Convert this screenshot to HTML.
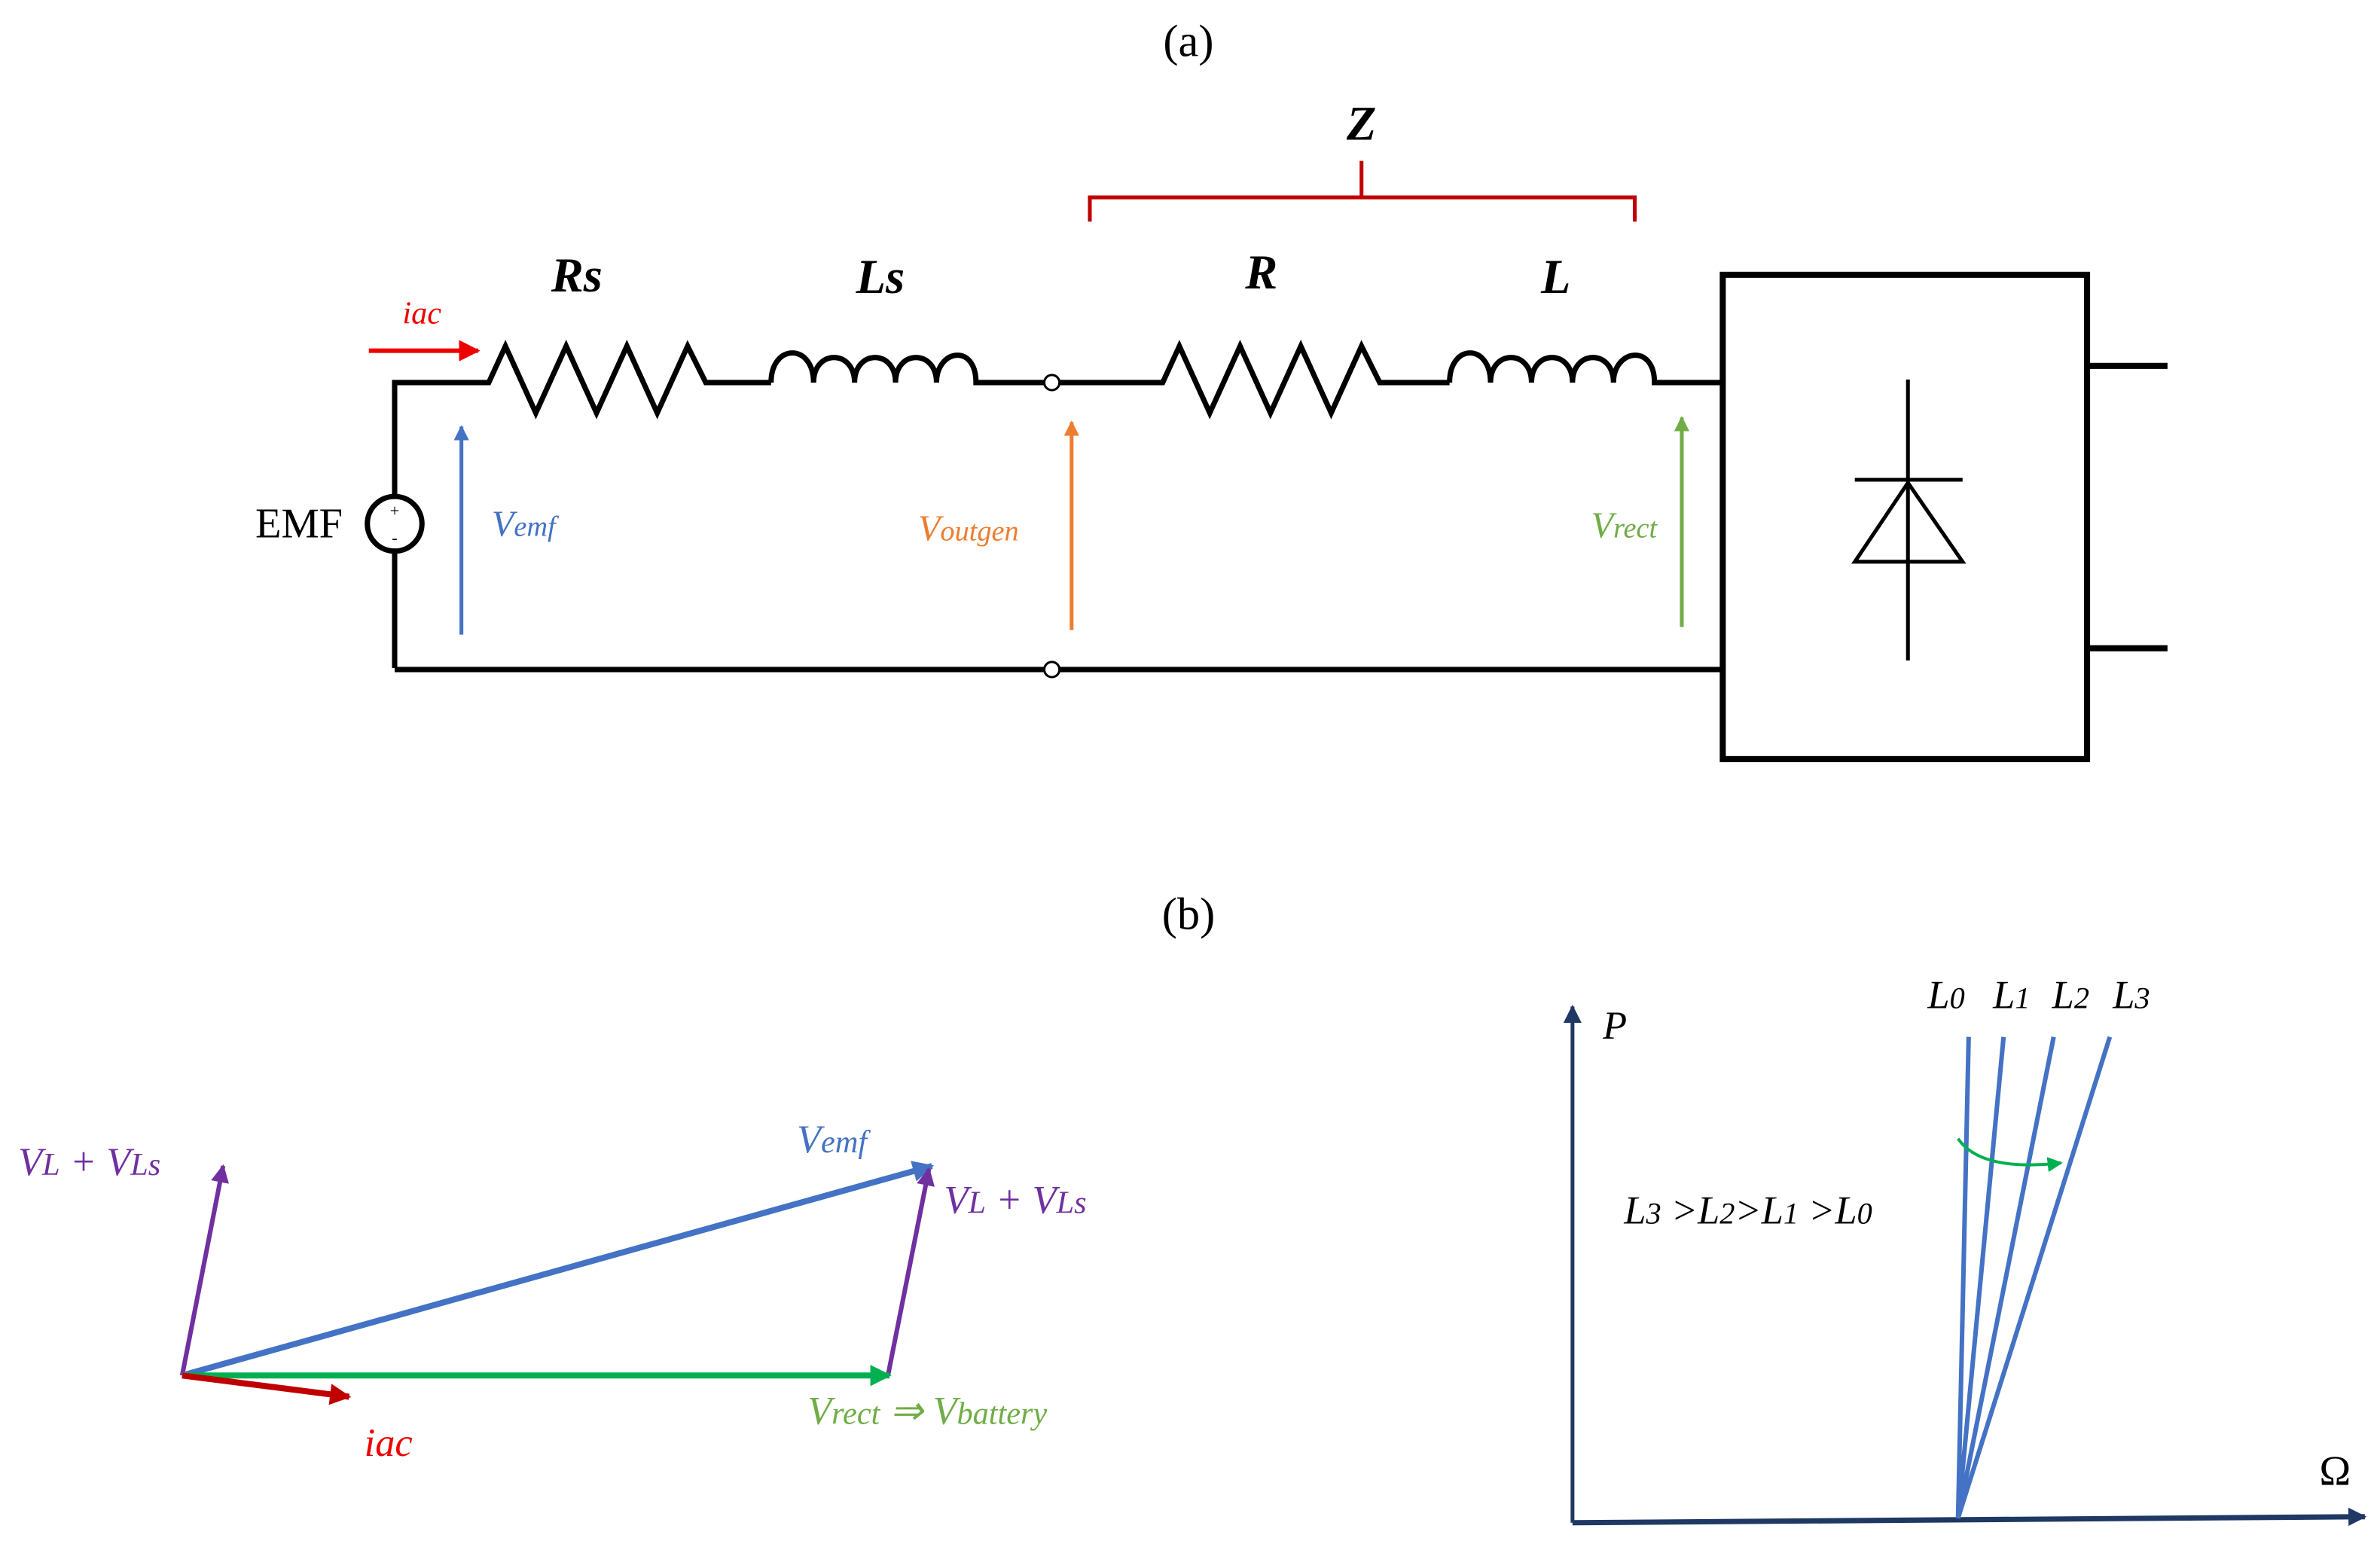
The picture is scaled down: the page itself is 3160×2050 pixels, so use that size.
<!DOCTYPE html>
<html><head><meta charset="utf-8"><style>html,body{margin:0;padding:0;background:#fff}svg{display:block}</style></head>
<body>
<svg width="3160" height="2050" viewBox="0 0 1568 1017" preserveAspectRatio="none" xmlns="http://www.w3.org/2000/svg" font-family="'Liberation Serif', serif">
<defs>
<marker id="mr" viewBox="0 0 10 10" markerWidth="14" markerHeight="14" refX="9" refY="5" orient="auto" markerUnits="userSpaceOnUse"><path d="M0,0 L10,5 L0,10 Z" fill="#e00"/></marker>
<marker id="mb" viewBox="0 0 10 10" markerWidth="10" markerHeight="12" refX="9" refY="5" orient="auto" markerUnits="userSpaceOnUse"><path d="M0,0 L10,5 L0,10 Z" fill="#4472c4"/></marker>
<marker id="mo" viewBox="0 0 10 10" markerWidth="10" markerHeight="12" refX="9" refY="5" orient="auto" markerUnits="userSpaceOnUse"><path d="M0,0 L10,5 L0,10 Z" fill="#ed7d31"/></marker>
<marker id="mg" viewBox="0 0 10 10" markerWidth="10" markerHeight="12" refX="9" refY="5" orient="auto" markerUnits="userSpaceOnUse"><path d="M0,0 L10,5 L0,10 Z" fill="#70ad47"/></marker>
<marker id="pp" viewBox="0 0 10 10" markerWidth="12" markerHeight="12" refX="9" refY="5" orient="auto" markerUnits="userSpaceOnUse"><path d="M0,0 L10,5 L0,10 Z" fill="#7030a0"/></marker>
<marker id="pb" viewBox="0 0 10 10" markerWidth="14" markerHeight="14" refX="9" refY="5" orient="auto" markerUnits="userSpaceOnUse"><path d="M0,0 L10,5 L0,10 Z" fill="#4472c4"/></marker>
<marker id="pg" viewBox="0 0 10 10" markerWidth="14" markerHeight="14" refX="9" refY="5" orient="auto" markerUnits="userSpaceOnUse"><path d="M0,0 L10,5 L0,10 Z" fill="#00b050"/></marker>
<marker id="pr" viewBox="0 0 10 10" markerWidth="14" markerHeight="14" refX="9" refY="5" orient="auto" markerUnits="userSpaceOnUse"><path d="M0,0 L10,5 L0,10 Z" fill="#c00000"/></marker>
<marker id="nv" viewBox="0 0 10 10" markerWidth="12" markerHeight="14" refX="9" refY="5" orient="auto" markerUnits="userSpaceOnUse"><path d="M0,0 L10,5 L0,10 Z" fill="#1f3864"/></marker>
<marker id="gg" viewBox="0 0 10 10" markerWidth="10" markerHeight="10" refX="9" refY="5" orient="auto" markerUnits="userSpaceOnUse"><path d="M0,0 L10,5 L0,10 Z" fill="#00b050"/></marker>
</defs>

<text x="783" y="37" font-size="30" text-anchor="middle">(a)</text>
<text x="897" y="92" font-size="32" font-style="italic" font-weight="bold" text-anchor="middle">Z</text>
<path d="M718,146 V130 H1077 V146 M897,130 V106" fill="none" stroke="#c00000" stroke-width="2.5"/>

<g font-size="32" font-style="italic" font-weight="bold" text-anchor="middle">
<text x="380" y="192">Rs</text><text x="580" y="193">Ls</text><text x="831" y="190">R</text><text x="1025" y="193">L</text>
</g>
<text x="278" y="213" font-size="21" font-style="italic" fill="#e00" text-anchor="middle">iac</text>
<line x1="243" y1="231" x2="315" y2="231" stroke="#e00" stroke-width="3" marker-end="url(#mr)"/>

<g fill="none" stroke="#000" stroke-width="3.5" stroke-linejoin="miter">
<path d="M260,440 V363 M260,327 V252 H322 L333,228 L353,272 L373,228 L393,272 L413,228 L433,272 L453,228 L465,252 H508"/>
<path d="M508,252 C508,226 536,226 536,252 C536,230 563,230 563,252 C563,230 590,230 590,252 C590,230 617,230 617,252 C617,230 643,226 643,252 H688"/>
<path d="M698,252 H766 L777,228 L797,272 L817,228 L837,272 L857,228 L877,272 L897,228 L909,252 H955"/>
<path d="M955,252 C955,226 982,226 982,252 C982,230 1009,230 1009,252 C1009,230 1036,230 1036,252 C1036,230 1063,230 1063,252 C1063,230 1090,226 1090,252 H1135"/>
<path d="M260,441 H688 M698,441 H1135"/>
<rect x="1135" y="181" width="240" height="319" stroke-width="4"/>
<path d="M1375,241 H1428 M1375,427 H1428" stroke-width="4"/>
<circle cx="260" cy="345" r="18"/>
</g>
<circle cx="693" cy="252" r="5" fill="#fff" stroke="#000" stroke-width="1.5"/>
<circle cx="693" cy="441" r="5" fill="#fff" stroke="#000" stroke-width="1.5"/>
<text x="260" y="340" font-size="11" text-anchor="middle">+</text>
<text x="260" y="358" font-size="11" text-anchor="middle">-</text>
<text x="197" y="354" font-size="28" text-anchor="middle">EMF</text>

<g fill="none" stroke="#000" stroke-width="2.5">
<path d="M1257,250 V435 M1222,316 H1293"/>
<path d="M1257,318 L1222,370 H1293 Z"/>
</g>

<line x1="304" y1="418" x2="304" y2="281" stroke="#4472c4" stroke-width="2.5" marker-end="url(#mb)"/>
<line x1="706" y1="415" x2="706" y2="278" stroke="#ed7d31" stroke-width="2.5" marker-end="url(#mo)"/>
<line x1="1108" y1="413" x2="1108" y2="275" stroke="#70ad47" stroke-width="2.5" marker-end="url(#mg)"/>
<g font-size="24" font-style="italic">
<text x="345" y="353" fill="#4472c4" text-anchor="middle">V<tspan font-size="19">emf</tspan></text>
<text x="638" y="356" fill="#ed7d31" text-anchor="middle">V<tspan font-size="19">outgen</tspan></text>
<text x="1070" y="354" fill="#70ad47" text-anchor="middle">V<tspan font-size="19">rect</tspan></text>
</g>

<text x="783" y="612" font-size="30" text-anchor="middle">(b)</text>

<line x1="120" y1="906" x2="147" y2="768" stroke="#7030a0" stroke-width="3" marker-end="url(#pp)"/>
<line x1="120" y1="906" x2="614" y2="768" stroke="#4472c4" stroke-width="4" marker-end="url(#pb)"/>
<line x1="585" y1="906" x2="612" y2="770" stroke="#7030a0" stroke-width="3" marker-end="url(#pp)"/>
<line x1="120" y1="906" x2="586" y2="906" stroke="#00b050" stroke-width="4" marker-end="url(#pg)"/>
<line x1="120" y1="906" x2="230" y2="920" stroke="#c00000" stroke-width="4" marker-end="url(#pr)"/>
<g font-size="26" font-style="italic">
<text x="12" y="774" fill="#7030a0">V<tspan font-size="21">L</tspan> + V<tspan font-size="21">Ls</tspan></text>
<text x="525" y="759" fill="#4472c4">V<tspan font-size="21">emf</tspan></text>
<text x="622" y="799" fill="#7030a0">V<tspan font-size="21">L</tspan> + V<tspan font-size="21">Ls</tspan></text>
<text x="532" y="938" fill="#70ad47">V<tspan font-size="21">rect</tspan> ⇒ V<tspan font-size="21">battery</tspan></text>
<text x="240" y="959" fill="#e00">iac</text>
</g>

<line x1="1036" y1="1003" x2="1036" y2="663" stroke="#1f3864" stroke-width="2.5" marker-end="url(#nv)"/>
<line x1="1036" y1="1003" x2="1558" y2="999" stroke="#1f3864" stroke-width="3.5" marker-end="url(#nv)"/>
<g stroke="#4472c4" stroke-width="3">
<line x1="1290" y1="1000" x2="1297" y2="683"/>
<line x1="1290" y1="1000" x2="1320" y2="683"/>
<line x1="1290" y1="1000" x2="1353" y2="683"/>
<line x1="1290" y1="1000" x2="1390" y2="683"/>
</g>
<path d="M1290,750 Q1305,772 1358,766" fill="none" stroke="#00b050" stroke-width="2" marker-end="url(#gg)"/>
<g font-size="26" font-style="italic">
<text x="1056" y="684">P</text>
<text x="1528" y="978" font-style="normal" font-size="28">Ω</text>
<text x="1270" y="664">L<tspan font-size="20">0</tspan></text>
<text x="1313" y="664">L<tspan font-size="20">1</tspan></text>
<text x="1352" y="664">L<tspan font-size="20">2</tspan></text>
<text x="1392" y="664">L<tspan font-size="20">3</tspan></text>
<text x="1070" y="806">L<tspan font-size="20">3</tspan> &gt;L<tspan font-size="20">2</tspan>&gt;L<tspan font-size="20">1</tspan> &gt;L<tspan font-size="20">0</tspan></text>
</g>
</svg>
</body></html>
